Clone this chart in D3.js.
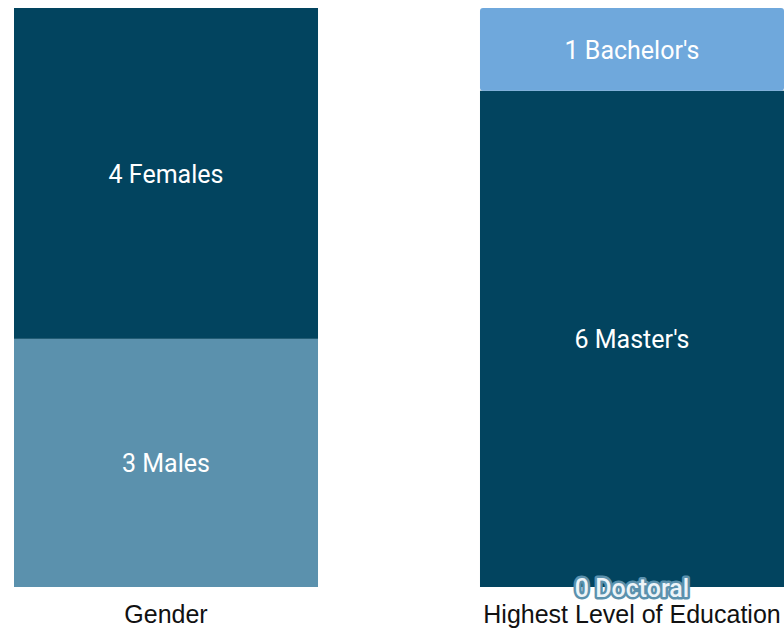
<!DOCTYPE html>
<html><head><meta charset="utf-8">
<script src="https://cdn.jsdelivr.net/npm/d3@7"></script>
<style>body{margin:0;background:#fff}svg{display:block}</style>
</head><body>
<svg id="c" width="784" height="628"></svg>
<script>
const categories = ["Gender", "Highest Level of Education"];
const genderLabels = ["Males", "Females"];
const genderValues = [3, 4];
const educationLabels = ["Doctoral", "Master's", "Bachelor's"];
const educationValues = [0, 6, 1];
const genderColors = ["#5b91ad", "#02445f"];
const educationColors = ["#5b91ad", "#02445f", "#6fa8dc"];

const groups = [
  {cat: categories[0], labels: genderLabels, values: genderValues, colors: genderColors, r: 0},
  {cat: categories[1], labels: educationLabels, values: educationValues, colors: educationColors, r: 3}
];

const svg = d3.select("#c");
const x = d3.scaleBand().domain(categories).range([14, 784]).paddingInner(0.3476).paddingOuter(0);
const y = d3.scaleLinear().domain([0, 7]).range([587, 8]);

groups.forEach(g => {
  let cum = 0;
  const segs = g.values.map((v, i) => { const s = {v, y0: cum, y1: cum + v, label: g.labels[i], color: g.colors[i]}; cum += v; return s; });
  const gg = svg.append("g");
  segs.forEach((s, i) => {
    if (s.v === 0) return;
    gg.append("rect")
      .attr("x", x(g.cat)).attr("width", x.bandwidth())
      .attr("y", y(s.y1)).attr("height", y(s.y0) - y(s.y1))
      .attr("fill", s.color)
      .attr("rx", (i === segs.length - 1) ? g.r : 0);
  });
  segs.forEach(s => {
    const cy = (y(s.y0) + y(s.y1)) / 2;
    const t = gg.append("text")
      .attr("x", x(g.cat) + x.bandwidth() / 2)
      .attr("y", s.v === 0 ? cy + 1 : cy + 1)
      .attr("text-anchor", "middle").attr("dominant-baseline", "central")
      .style("font-family", "Roboto").style("font-size", "25px")
      .attr("fill", "#ffffff")
      .text(s.v + " " + s.label);
    if (s.v === 0) {
      t.attr("fill", "#eef4f8").attr("stroke", "#5b91ad").attr("stroke-width", 5)
       .attr("stroke-linejoin", "round").style("paint-order", "stroke").style("font-weight", "500");
    }
  });
  svg.append("text")
    .attr("x", x(g.cat) + x.bandwidth() / 2).attr("y", 623)
    .attr("text-anchor", "middle")
    .style("font-family", "Liberation Sans, Arial, sans-serif").style("font-size", "25px")
    .attr("fill", "#111")
    .text(g.cat);
});
</script>
</body></html>
